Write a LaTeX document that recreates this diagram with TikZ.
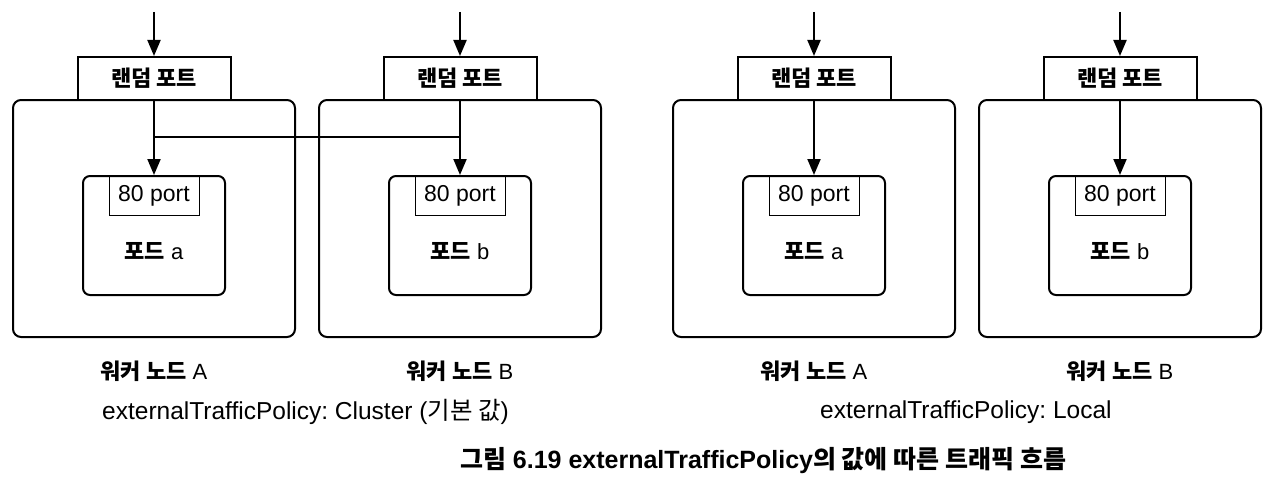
\documentclass[tikz,border=0pt]{standalone}
\usepackage{fontspec}
\setmainfont{Liberation Sans}
\newfontfamily\kofont{Noto Sans CJK KR}
\usetikzlibrary{arrows.meta}
\frenchspacing

\newcommand{\kbold}[1]{{\kofont\bfseries #1}}
\newcommand{\kreg}[1]{{\kofont #1}}

\tikzset{
  outerbox/.style={draw, line width=2pt, rounded corners=8pt, minimum width=282pt, minimum height=237pt},
  portbox/.style={draw, fill=white, line width=2pt, minimum width=153pt, minimum height=43pt, font=\fontsize{22}{26}\selectfont},
  podbox/.style={draw, line width=2pt, rounded corners=7pt, minimum width=142pt, minimum height=119pt},
  tportbox/.style={draw, line width=0.5pt, minimum width=90pt, minimum height=39pt, font=\fontsize{23}{26}\selectfont},
  lbl/.style={font=\fontsize{22}{26}\selectfont},
  poltxt/.style={anchor=west, inner sep=0pt, font=\fontsize{24.5}{28}\selectfont},
  captxt/.style={inner sep=0pt, font=\fontsize{25}{28}\selectfont\bfseries},
  arr/.style={-{Triangle[length=16pt,width=13pt]}, line width=2pt},
  link/.style={line width=2pt},
}

\begin{document}
\begin{tikzpicture}[x=1pt, y=-1pt]
    \useasboundingbox (0,0) rectangle (1280,487);

    % worker nodes, random ports and pods
    \foreach \id/\x/\pl/\wl in {la/154/a/A, lb/460/b/B, ra/814/a/A, rb/1120/b/B} {
        \node[outerbox] (out-\id) at (\x,218.5) {};
        \node[portbox] (port-\id) at (\x,78.5) {\kbold{랜덤 포트}};
        \node[podbox] (pod-\id) at (\x,235.5) {};
        \node[tportbox] (tp-\id) at (\x,195.5) {80 port};
        \node[lbl] (podlbl-\id) at (\x,251) {\kbold{포드} \pl};
        \node[lbl] (wk-\id) at (\x,371) {\kbold{워커 노드} \wl};
        \coordinate (in-\id) at (\x,12);
        \draw[arr] (in-\id) -- (port-\id);
        \draw[arr] (port-\id) -- (pod-\id);
    }

    % Cluster: traffic also goes to the other node
    \coordinate (jl) at (154,137);
    \coordinate (jr) at (460,137);
    \draw[link] (jl) -- (jr);

    % policy texts
    \node[poltxt] (pol-l) at (102,412) {externalTrafficPolicy: Cluster (\kreg{기본 값})};
    \node[poltxt] (pol-r) at (820,412) {externalTrafficPolicy: Local};

    % caption
    \node[captxt] (cap) at (763,461) {\kbold{그림} 6.19 externalTrafficPolicy\kbold{의 값에 따른 트래픽 흐름}};
\end{tikzpicture}
\end{document}
